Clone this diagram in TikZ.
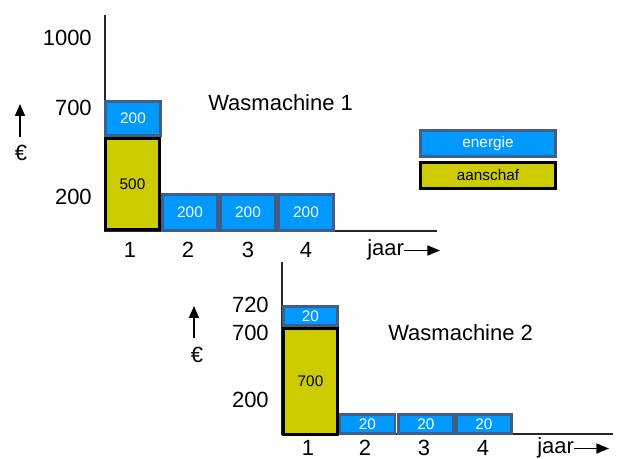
\documentclass[tikz,border=0pt]{standalone}
\usepackage{fontspec}
\setmainfont{Liberation Sans}
\usetikzlibrary{arrows.meta}
\definecolor{fillblue}{HTML}{0099FF}
\definecolor{edgeblue}{HTML}{3F5F8A}
\definecolor{fillolive}{HTML}{CCCC00}
\tikzset{
  bigtxt/.style={font=\fontsize{16.5}{18}\selectfont, inner sep=0pt},
  smalltxt/.style={font=\fontsize{11.5}{13}\selectfont},
  bluebar/.style={draw=edgeblue, fill=fillblue, line width=2.2pt, text=white, smalltxt, inner sep=0pt},
  olivebar/.style={draw=black, fill=fillolive, line width=2.2pt, text=black, smalltxt, inner sep=0pt},
  axisline/.style={draw=black!85, line width=0.8pt},
  uparrow/.style={line width=1.2pt, -{Triangle[length=9pt,width=7.5pt]}},
  sidearrow/.style={line width=1.4pt, -{Triangle[length=9.5pt,width=7.5pt]}},
}
\begin{document}
\begin{tikzpicture}[x=0.75pt, y=-0.75pt]
\useasboundingbox (0,0) rectangle (619,459);
% ---------- chart 1 ----------
\coordinate (ytop1) at (105,15);
\coordinate (orig1) at (105,231);
\coordinate (xend1) at (437,231);
\draw[axisline] (ytop1) -- (orig1) -- (xend1);
\node[olivebar, minimum width=54*0.75pt, minimum height=91*0.75pt] (o1) at (132.5,184) {500};
\node[bluebar, minimum width=55*0.75pt, minimum height=34*0.75pt] (b11) at (133,118.5) {200};
\node[bluebar, minimum width=55*0.75pt, minimum height=36*0.75pt] (b12) at (190,212.5) {200};
\node[bluebar, minimum width=55*0.75pt, minimum height=36*0.75pt] (b13) at (248,212.5) {200};
\node[bluebar, minimum width=55*0.75pt, minimum height=36*0.75pt] (b14) at (306,212.5) {200};
\node[bigtxt, anchor=east] (l1000) at (92,38) {1000};
\node[bigtxt, anchor=east] (l700a) at (92,108) {700};
\node[bigtxt, anchor=east] (l200a) at (92,197) {200};
\node[bigtxt] (t11) at (130,250) {1};
\node[bigtxt] (t12) at (188,250) {2};
\node[bigtxt] (t13) at (248,250) {3};
\node[bigtxt] (t14) at (306,250) {4};
\node[bigtxt, anchor=west] (jaar1) at (367,250) {jaar};
\coordinate (jaar1end) at (440,250.5);
\draw[sidearrow] (jaar1.east) ++(0,0.5) -- (jaar1end);
\node[bigtxt] (euro1) at (21,153) {€};
\coordinate (ea1s) at (20,137);
\coordinate (ea1e) at (20,104);
\draw[uparrow] (ea1s) -- (ea1e);
\node[bigtxt, anchor=west] (title1) at (208,103) {Wasmachine 1};
% legend
\node[bluebar, minimum width=135*0.75pt, minimum height=26*0.75pt] (legE) at (488,143.5) {energie};
\node[olivebar, minimum width=135*0.75pt, minimum height=26*0.75pt] (legA) at (488,175.5) {aanschaf};
% ---------- chart 2 ----------
\coordinate (ytop2) at (282,262);
\coordinate (orig2) at (282,434);
\coordinate (xend2) at (613,434);
\draw[axisline] (ytop2) -- (orig2) -- (xend2);
\node[olivebar, minimum width=54*0.75pt, minimum height=106*0.75pt] (o2) at (310.5,381.5) {700};
\node[bluebar, minimum width=54*0.75pt, minimum height=19*0.75pt] (b21) at (310.5,316) {20};
\node[bluebar, minimum width=55*0.75pt, minimum height=19*0.75pt] (b22) at (367.5,424) {20};
\node[bluebar, minimum width=55*0.75pt, minimum height=19*0.75pt] (b23) at (426,424) {20};
\node[bluebar, minimum width=55*0.75pt, minimum height=19*0.75pt] (b24) at (484,424) {20};
\node[bigtxt, anchor=east] (l720) at (269,305) {720};
\node[bigtxt, anchor=east] (l700b) at (269,333) {700};
\node[bigtxt, anchor=east] (l200b) at (269,400) {200};
\node[bigtxt] (t21) at (308,448) {1};
\node[bigtxt] (t22) at (365,448) {2};
\node[bigtxt] (t23) at (424,448) {3};
\node[bigtxt] (t24) at (483,448) {4};
\node[bigtxt, anchor=west] (jaar2) at (537,448) {jaar};
\coordinate (jaar2end) at (609,448.5);
\draw[sidearrow] (jaar2.east) ++(0,0.5) -- (jaar2end);
\node[bigtxt] (euro2) at (197,355) {€};
\coordinate (ea2s) at (194,338);
\coordinate (ea2e) at (194,306);
\draw[uparrow] (ea2s) -- (ea2e);
\node[bigtxt, anchor=west] (title2) at (388,333) {Wasmachine 2};
\end{tikzpicture}
\end{document}
